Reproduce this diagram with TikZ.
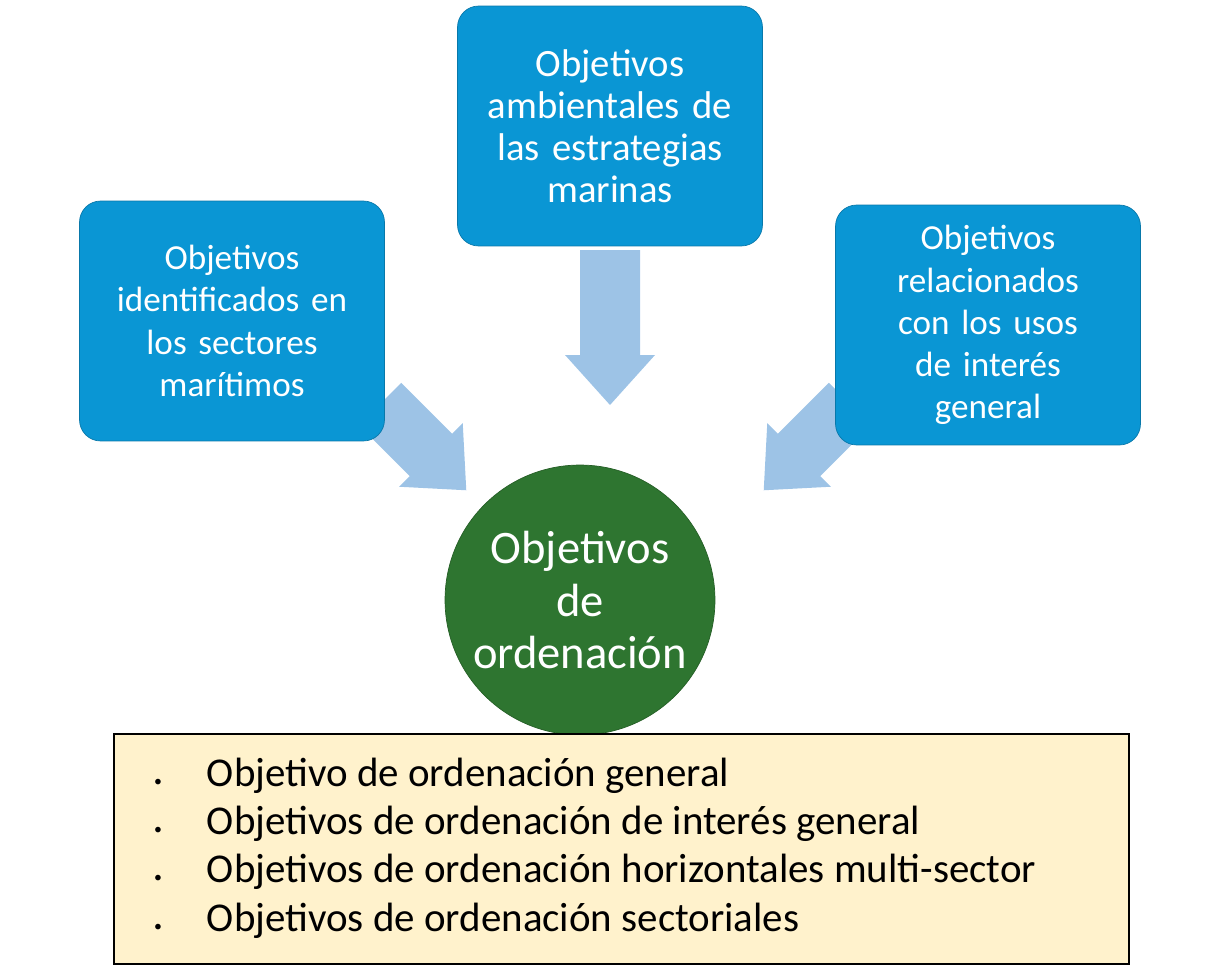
\documentclass[tikz,border=0pt]{standalone}
\usepackage{fontspec}
\setmainfont{Carlito}
\usetikzlibrary{positioning}
\definecolor{boxblue}{HTML}{0A96D4}
\definecolor{arrowblue}{HTML}{9DC3E6}
\definecolor{circgreen}{HTML}{2E7530}
\definecolor{listbg}{HTML}{FFF2CC}
% block arrow along local x: #1 = length
\newcommand{\flowarrow}[1]{%
  \fill[arrowblue] (0,-30) -- ({#1-50},-30) -- ({#1-50},-45) -- (#1,0)
    -- ({#1-50},45) -- ({#1-50},30) -- (0,30) -- cycle;}
\begin{document}
\begin{tikzpicture}[x=0.02cm,y=-0.02cm]
% -------------------------------------------------
\tikzset{
  goalbox/.style={fill=boxblue, draw=boxblue!80!black, rounded corners=12pt,
    minimum width=6.1cm, minimum height=4.8cm, text width=5.8cm, align=center,
    text=white, font=\fontsize{22}{24}\selectfont},
}
\useasboundingbox (0,0) rectangle (1220,970);
% arrows
\begin{scope}[shift={(610,250)}, rotate=-90] \flowarrow{155} \end{scope}
\begin{scope}[shift={(380,404)}, rotate=-45] \flowarrow{122} \end{scope}
\begin{scope}[shift={(850,404)}, rotate=-135] \flowarrow{122} \end{scope}
% boxes
\node[goalbox] (top) at (610,126) {Objetivos\\ambientales de\\las estrategias\\marinas};
\node[goalbox, font=\fontsize{20}{24}\selectfont] (left) at (232,321) {Objetivos\\identificados en\\los sectores\\marítimos};
\node[goalbox, font=\fontsize{20}{24}\selectfont] (right) at (988,325) {Objetivos\\relacionados\\con los usos\\de interés\\general};
% centre
\node[circle, fill=circgreen, draw=circgreen!80!black, minimum size=5.3cm,
  text=white, align=center, font=\fontsize{26.5}{30}\selectfont] (goal) at (580,600)
  {Objetivos\\de\\ordenación};
% list
\node[draw=black, line width=1.2pt, fill=listbg, minimum width=20.3cm, minimum height=4.6cm,
  anchor=north west, inner sep=0pt] (list) at (113,733) {};
\node[anchor=west, align=left, font=\fontsize{23.3}{27.5}\selectfont] (items) at (148,848)
  {\makebox[30pt][l]{\small\textbullet}Objetivo de ordenación general\\
   \makebox[30pt][l]{\small\textbullet}Objetivos de ordenación de interés general\\
   \makebox[30pt][l]{\small\textbullet}Objetivos de ordenación horizontales multi-sector\\
   \makebox[30pt][l]{\small\textbullet}Objetivos de ordenación sectoriales};
\end{tikzpicture}
\end{document}
